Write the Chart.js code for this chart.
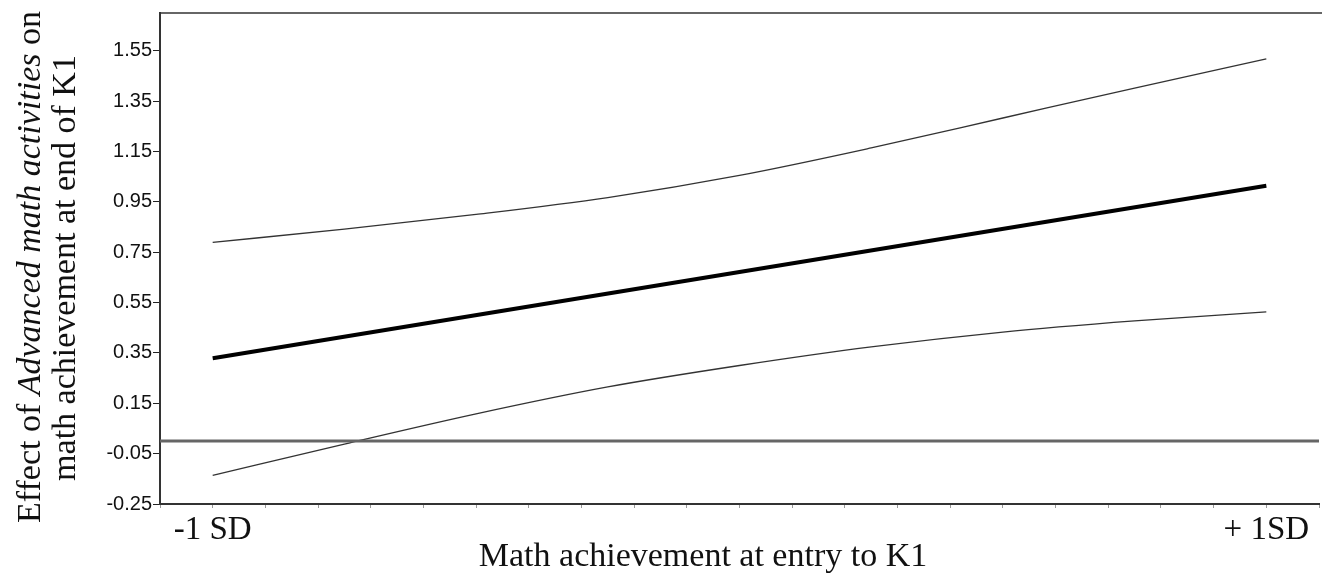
<!DOCTYPE html>
<html>
<head>
<meta charset="utf-8">
<script src="https://cdn.jsdelivr.net/npm/chart.js@4/dist/chart.umd.min.js"></script>
<style>
  html, body { margin: 0; padding: 0; background: #fff; }
  #wrap { width: 1322px; height: 575px; }
</style>
</head>
<body>
<div id="wrap"><canvas id="myChart" width="1322" height="575"></canvas></div>
<script>
// values
let xPoints = [-1, -0.75, -0.5, -0.25, 0, 0.25, 0.5, 0.75, 1];
let upperCI = [0.789, 0.842, 0.900, 0.967, 1.055, 1.164, 1.283, 1.402, 1.518];
let lowerCI = [-0.136, -0.012, 0.108, 0.215, 0.300, 0.374, 0.433, 0.477, 0.513];
let effectX = [-1, 1];
let effectY = [0.329, 1.014];
let zeroX = [-1.1, 1.1];
let zeroY = [0, 0];

let yTicks = [-0.25, -0.05, 0.15, 0.35, 0.55, 0.75, 0.95, 1.15, 1.35, 1.55];
let xTicks = [];
for (let i = -11; i <= 11; i++) xTicks.push(i / 10);
let xLabels = { "-1": "-1 SD", "1": "+ 1SD" };

let xTitle = "Math achievement at entry to K1";
let yTitle1 = [
  { text: "Effect of ", italic: false },
  { text: "Advanced math activities", italic: true },
  { text: " on", italic: false }
];
let yTitle2 = "math achievement at end of K1";

function toPoints(xs, ys) {
  return xs.map((x, i) => ({ x: x, y: ys[i] }));
}

const serif = "'Liberation Serif', 'Times New Roman', serif";

const titlesPlugin = {
  id: "titles",
  afterDraw(chart) {
    const ctx = chart.ctx;
    const area = chart.chartArea;
    ctx.save();
    // top frame line
    ctx.strokeStyle = "#333";
    ctx.lineWidth = 1.5;
    ctx.beginPath();
    ctx.moveTo(area.left, area.top);
    ctx.lineTo(1322, area.top);
    ctx.stroke();

    ctx.fillStyle = "#111";
    ctx.textBaseline = "alphabetic";
    ctx.font = "34px " + serif;
    ctx.textAlign = "center";
    ctx.fillText(xTitle, 703, 566);

    // y title, two rotated lines
    ctx.textAlign = "left";
    let cy = 267;
    ctx.save();
    ctx.translate(39.5, cy);
    ctx.rotate(-Math.PI / 2);
    let total = 0;
    yTitle1.forEach(p => {
      ctx.font = (p.italic ? "italic " : "") + "34px " + serif;
      p.w = ctx.measureText(p.text).width;
      total += p.w;
    });
    let pos = -total / 2;
    yTitle1.forEach(p => {
      ctx.font = (p.italic ? "italic " : "") + "34px " + serif;
      ctx.fillText(p.text, pos, 0);
      pos += p.w;
    });
    ctx.restore();

    ctx.save();
    ctx.translate(75, cy + 1);
    ctx.rotate(-Math.PI / 2);
    ctx.font = "34px " + serif;
    ctx.textAlign = "center";
    ctx.fillText(yTitle2, 0, 0);
    ctx.restore();
    ctx.restore();
  }
};

const ctx = document.getElementById("myChart");
new Chart(ctx, {
  type: "line",
  data: {
    datasets: [
      {
        data: toPoints(zeroX, zeroY),
        borderColor: "#666",
        borderWidth: 3,
        pointRadius: 0
      },
      {
        data: toPoints(xPoints, upperCI),
        borderColor: "#333",
        borderWidth: 1.3,
        pointRadius: 0,
        cubicInterpolationMode: "monotone"
      },
      {
        data: toPoints(xPoints, lowerCI),
        borderColor: "#333",
        borderWidth: 1.3,
        pointRadius: 0,
        cubicInterpolationMode: "monotone"
      },
      {
        data: toPoints(effectX, effectY),
        borderColor: "#000",
        borderWidth: 4,
        pointRadius: 0
      }
    ]
  },
  options: {
    responsive: false,
    animation: false,
    layout: { padding: { top: 9, left: 0, right: 0, bottom: 0 } },
    plugins: {
      legend: { display: false },
      tooltip: { enabled: false }
    },
    scales: {
      x: {
        type: "linear",
        min: -1.1,
        max: 1.1,
        afterBuildTicks: (scale) => {
          scale.ticks = xTicks.map(v => ({ value: v }));
        },
        afterFit: (scale) => { scale.height = 71; },
        border: { display: true, color: "#333", width: 2 },
        grid: {
          drawOnChartArea: false,
          drawTicks: true,
          tickLength: 4,
          tickColor: "#999",
          tickWidth: 1
        },
        ticks: {
          autoSkip: false,
          maxRotation: 0,
          padding: 3,
          color: "#111",
          font: { family: serif, size: 33 },
          callback: (v) => {
            let k = String(Math.round(v * 10) / 10);
            return xLabels[k] || "";
          }
        }
      },
      y: {
        type: "linear",
        min: -0.25,
        max: 1.70,
        afterBuildTicks: (scale) => {
          scale.ticks = yTicks.map(v => ({ value: v }));
        },
        afterFit: (scale) => { scale.width = 160; },
        border: { display: true, color: "#333", width: 2 },
        grid: {
          drawOnChartArea: false,
          drawTicks: true,
          tickLength: 7,
          tickColor: "#222",
          tickWidth: 1
        },
        ticks: {
          padding: 1,
          color: "#111",
          font: { family: "'Liberation Sans', Arial, sans-serif", size: 20 },
          callback: (v) => v.toFixed(2)
        }
      }
    }
  },
  plugins: [titlesPlugin]
});
</script>
</body>
</html>
